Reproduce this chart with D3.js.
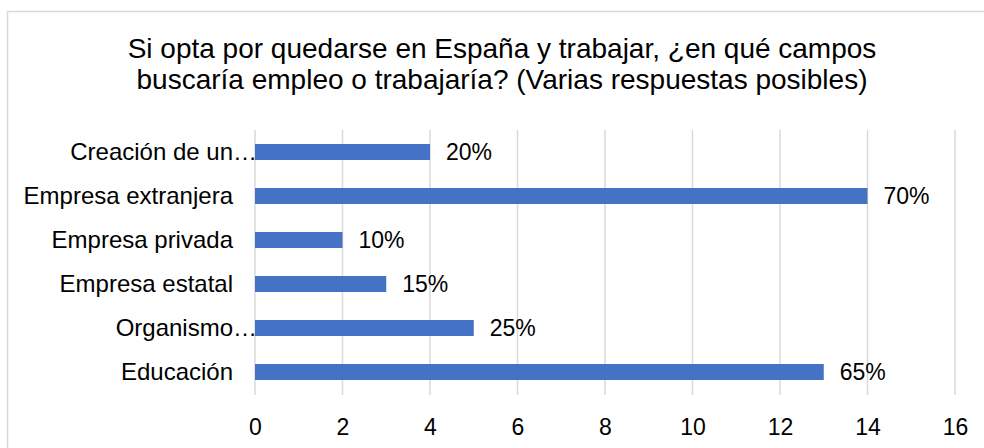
<!DOCTYPE html>
<html><head><meta charset="utf-8">
<script src="https://cdn.jsdelivr.net/npm/d3@7"></script>
<style>html,body{margin:0;padding:0;background:#fff;} svg{display:block;font-family:"Liberation Sans",Arial,sans-serif;}</style>
</head><body>
<svg id="c" width="984" height="448"></svg>
<script>
const categories = ["Creación de un…","Empresa extranjera","Empresa privada","Empresa estatal","Organismo…","Educación"];
const values = [4,14,2,3,5,13];
const pctLabels = ["20%","70%","10%","15%","25%","65%"];
const xTicks = [0,2,4,6,8,10,12,14,16];
const titleLines = ["Si opta por quedarse en España y trabajar, ¿en qué campos","buscaría empleo o trabajaría? (Varias respuestas posibles)"];

const svg = d3.select("#c");
svg.append("rect").attr("x",7.5).attr("y",11.5).attr("width",1000).attr("height",500)
  .attr("fill","#fff").attr("stroke","#d9d9d9").attr("stroke-width",1.5);

const x = d3.scaleLinear().domain([0,16]).range([255,955]);
const y = d3.scaleBand().domain(categories).range([130,394]).paddingInner(28/44).paddingOuter(14/44);

svg.append("g").selectAll("text").data(titleLines).join("text")
  .attr("x",502).attr("y",(d,i)=>58+i*31).attr("text-anchor","middle")
  .attr("font-size",28).attr("fill","#000").text(d=>d);

svg.append("g").selectAll("line").data(xTicks).join("line")
  .attr("x1",d=>x(d)).attr("x2",d=>x(d)).attr("y1",130).attr("y2",395)
  .attr("stroke","#d9d9d9").attr("stroke-width",1.5);

const xAxis = d3.axisBottom(x).tickValues(xTicks).tickSize(0).tickPadding(0);
const gx = svg.append("g").attr("transform","translate(0,418)").call(xAxis);
gx.select(".domain").remove();
gx.selectAll("text").attr("font-size",23).attr("font-family","Liberation Sans, Arial, sans-serif").attr("fill","#000").attr("dy","0.72em");

svg.append("g").selectAll("rect").data(categories).join("rect")
  .attr("x",x(0)).attr("y",d=>y(d)).attr("width",(d,i)=>x(values[i])-x(0)).attr("height",y.bandwidth())
  .attr("fill","#4472C4");

const yAxis = d3.axisLeft(y).tickSize(0).tickPadding(22);
const gy = svg.append("g").attr("transform",`translate(${x(0)},0)`).call(yAxis);
gy.select(".domain").remove();
gy.selectAll("text").attr("font-size",24).attr("font-family","Liberation Sans, Arial, sans-serif").attr("fill","#000").attr("dy","0.33em");
// truncated labels: ellipsis hangs past the label edge
gy.selectAll("text").each(function(d){
  if (d.endsWith("…")) {
    const t = d3.select(this);
    const tmp = svg.append("text").attr("font-size",24).text("…");
    const w = tmp.node().getComputedTextLength();
    tmp.remove();
    t.attr("dx", w + "px");
  }
});

svg.append("g").selectAll("text").data(categories).join("text")
  .attr("x",(d,i)=>x(values[i])+16).attr("y",d=>y(d)+y.bandwidth()/2).attr("dy","0.33em")
  .attr("font-size",23).attr("fill","#000").text((d,i)=>pctLabels[i]);
</script>
</body></html>
